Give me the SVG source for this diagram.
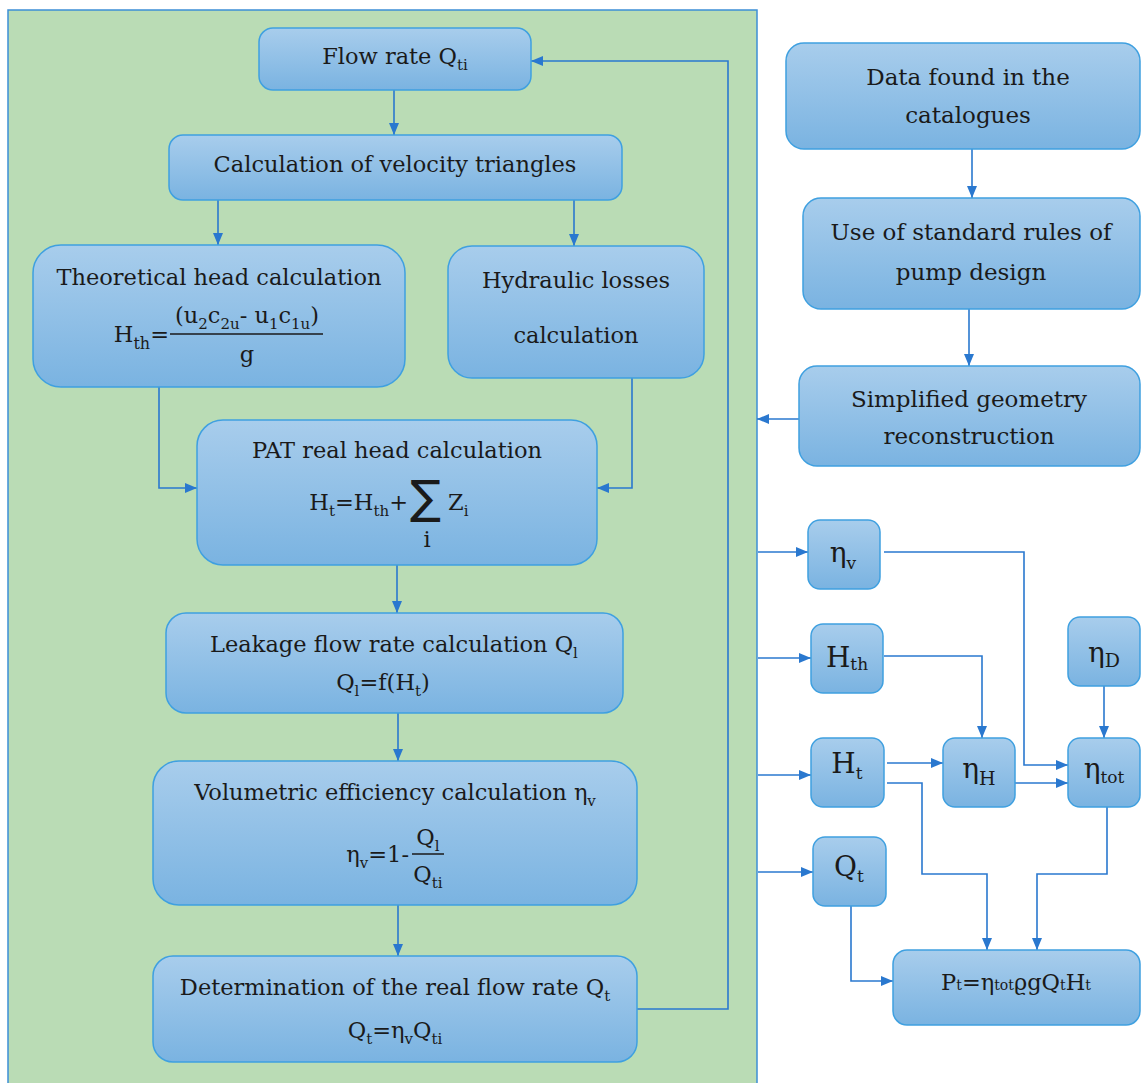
<svg xmlns="http://www.w3.org/2000/svg" width="1142" height="1083" viewBox="0 0 1142 1083">
<defs>
<linearGradient id="bg" x1="0" y1="0" x2="0" y2="1">
<stop offset="0" stop-color="#a8cdec"/>
<stop offset="1" stop-color="#7ab3e1"/>
</linearGradient>
<marker id="arr" viewBox="0 0 12 10" refX="12" refY="5" markerWidth="12" markerHeight="10" markerUnits="userSpaceOnUse" orient="auto">
<path d="M0,0 L12,5 L0,10 z" fill="#2a78cf"/>
</marker>
</defs>
<style>
.box{fill:url(#bg);stroke:#3fa0e0;stroke-width:1.5}
.t{font-family:"DejaVu Serif",serif;font-size:22.5px;fill:#1a1a1a;text-anchor:middle}
.r{font-size:23px}
.s{font-size:28px}
.e{text-anchor:end}
.st{text-anchor:start}
.c{fill:none;stroke:#2a78cf;stroke-width:1.6}
.a{marker-end:url(#arr)}
.fl{stroke:#1a1a1a;stroke-width:1.5}
</style>
<rect x="0" y="0" width="1142" height="1083" fill="#ffffff"/>
<rect id="panel" x="8" y="10" width="749" height="1085" fill="#badcb5" stroke="#3d8fd6" stroke-width="1.5"/>

<g id="connectors">
<path class="c a" d="M394,90 V135"/>
<path class="c a" d="M218,200 V245"/>
<path class="c a" d="M574,200 V246"/>
<path class="c a" d="M159,387 V488 H197"/>
<path class="c a" d="M632,378 V488 H597"/>
<path class="c a" d="M397,565 V613"/>
<path class="c a" d="M398,713 V761"/>
<path class="c a" d="M398,905 V956"/>
<path class="c a" d="M637,1009 H728 V61 H531"/>
<path class="c a" d="M972,149 V198"/>
<path class="c a" d="M969,309 V366"/>
<path class="c a" d="M799,419 H757"/>
<path class="c a" d="M758,552 H808"/>
<path class="c a" d="M758,658 H811"/>
<path class="c a" d="M758,775 H811"/>
<path class="c a" d="M758,872 H813"/>
<path class="c a" d="M884,552 H1024 V765 H1068"/>
<path class="c a" d="M884,656 H982 V738"/>
<path class="c a" d="M1104,686 V738"/>
<path class="c a" d="M887,763 H943"/>
<path class="c a" d="M887,783 H922 V874 H987 V950"/>
<path class="c a" d="M1015,783 H1068"/>
<path class="c a" d="M1107,807 V874 H1037 V950"/>
<path class="c a" d="M851,906 V981 H893"/>
</g>

<g id="flow">
<rect class="box" x="259" y="28" width="272" height="62" rx="14"/>
<text class="t" x="395" y="64">Flow rate Q<tspan dy="6" font-size="15">ti</tspan></text>
</g>
<g id="calc">
<rect class="box" x="169" y="135" width="453" height="65" rx="14"/>
<text class="t" x="395" y="172">Calculation of velocity triangles</text>
</g>
<g id="theo">
<rect class="box" x="33" y="245" width="372" height="142" rx="28"/>
<text class="t" x="219" y="285">Theoretical head calculation</text>
<text class="t e" x="169" y="342">H<tspan dy="7" font-size="16">th</tspan><tspan dy="-7">=</tspan></text>
<text class="t" x="247" y="323">(u<tspan dy="6" font-size="15">2</tspan><tspan dy="-6">c</tspan><tspan dy="6" font-size="15">2u</tspan><tspan dy="-6">- u</tspan><tspan dy="6" font-size="15">1</tspan><tspan dy="-6">c</tspan><tspan dy="6" font-size="15">1u</tspan><tspan dy="-6">)</tspan></text>
<line class="fl" x1="170" y1="334" x2="323" y2="334"/>
<text class="t" x="247" y="362">g</text>
</g>
<g id="hyd">
<rect class="box" x="448" y="246" width="256" height="132" rx="24"/>
<text class="t" x="576" y="288">Hydraulic losses</text>
<text class="t" x="576" y="343">calculation</text>
</g>
<g id="pat">
<rect class="box" x="197" y="420" width="400" height="145" rx="26"/>
<text class="t" x="397" y="458">PAT real head calculation</text>
<text class="t e" x="408" y="510">H<tspan dy="6" font-size="15">t</tspan><tspan dy="-6">=H</tspan><tspan dy="6" font-size="15">th</tspan><tspan dy="-6">+</tspan></text>
<text class="t st" x="410" y="513" style="font-family:'DejaVu Sans',sans-serif;font-size:46px">∑</text>
<text class="t st" x="448" y="510">Z<tspan dy="6" font-size="15">i</tspan></text>
<text class="t" x="427" y="547" font-size="15">i</text>
</g>
<g id="leak">
<rect class="box" x="166" y="613" width="457" height="100" rx="20"/>
<text class="t" x="394" y="652">Leakage flow rate calculation Q<tspan dy="6" font-size="15">l</tspan></text>
<text class="t" x="383" y="690">Q<tspan dy="6" font-size="15">l</tspan><tspan dy="-6">=f(H</tspan><tspan dy="6" font-size="15">t</tspan><tspan dy="-6">)</tspan></text>
</g>
<g id="vol">
<rect class="box" x="153" y="761" width="484" height="144" rx="26"/>
<text class="t" x="395" y="800">Volumetric efficiency calculation η<tspan dy="6" font-size="15">v</tspan></text>
<text class="t e" x="409" y="862">η<tspan dy="6" font-size="15">v</tspan><tspan dy="-6">=1-</tspan></text>
<text class="t" x="428" y="845">Q<tspan dy="6" font-size="15">l</tspan></text>
<line class="fl" x1="412" y1="854" x2="444" y2="854"/>
<text class="t" x="428" y="882">Q<tspan dy="6" font-size="15">ti</tspan></text>
</g>
<g id="det">
<rect class="box" x="153" y="956" width="484" height="106" rx="20"/>
<text class="t" x="395" y="995">Determination of the real flow rate Q<tspan dy="6" font-size="15">t</tspan></text>
<text class="t" x="395" y="1038">Q<tspan dy="6" font-size="15">t</tspan><tspan dy="-6">=η</tspan><tspan dy="6" font-size="15">v</tspan><tspan dy="-6">Q</tspan><tspan dy="6" font-size="15">ti</tspan></text>
</g>

<g id="data">
<rect class="box" x="786" y="43" width="354" height="106" rx="18"/>
<text class="t r" x="968" y="85">Data found in the</text>
<text class="t r" x="968" y="123">catalogues</text>
</g>
<g id="use">
<rect class="box" x="803" y="198" width="337" height="111" rx="18"/>
<text class="t r" x="971" y="240">Use of standard rules of</text>
<text class="t r" x="971" y="280">pump design</text>
</g>
<g id="simp">
<rect class="box" x="799" y="366" width="341" height="100" rx="18"/>
<text class="t r" x="969" y="407">Simplified geometry</text>
<text class="t r" x="969" y="444">reconstruction</text>
</g>

<g id="etav">
<rect class="box" x="808" y="520" width="72" height="69" rx="12"/>
<text class="t s" x="843" y="562">η<tspan dy="7" font-size="17">v</tspan></text>
</g>
<g id="hth">
<rect class="box" x="811" y="624" width="72" height="69" rx="12"/>
<text class="t s" x="847" y="667">H<tspan dy="3" font-size="17">th</tspan></text>
</g>
<g id="ht">
<rect class="box" x="811" y="738" width="73" height="69" rx="12"/>
<text class="t s" x="847" y="773">H<tspan dy="6" font-size="17">t</tspan></text>
</g>
<g id="qt">
<rect class="box" x="813" y="837" width="73" height="69" rx="12"/>
<text class="t s" x="849" y="876">Q<tspan dy="6" font-size="17">t</tspan></text>
</g>
<g id="etad">
<rect class="box" x="1068" y="617" width="72" height="69" rx="12"/>
<text class="t s" x="1104" y="662">η<tspan dy="5" font-size="19">D</tspan></text>
</g>
<g id="etah">
<rect class="box" x="943" y="738" width="72" height="69" rx="12"/>
<text class="t s" x="979" y="778">η<tspan dy="7" font-size="19">H</tspan></text>
</g>
<g id="etatot">
<rect class="box" x="1068" y="738" width="72" height="69" rx="12"/>
<text class="t s" x="1104" y="778">η<tspan dy="5" font-size="17">tot</tspan></text>
</g>
<g id="pt">
<rect class="box" x="893" y="950" width="247" height="75" rx="14"/>
<text class="t" x="1016" y="990" font-size="26">P<tspan font-size="14">t</tspan>=η<tspan font-size="14">tot</tspan>ϱgQ<tspan font-size="14">t</tspan>H<tspan font-size="14">t</tspan></text>
</g>
</svg>
